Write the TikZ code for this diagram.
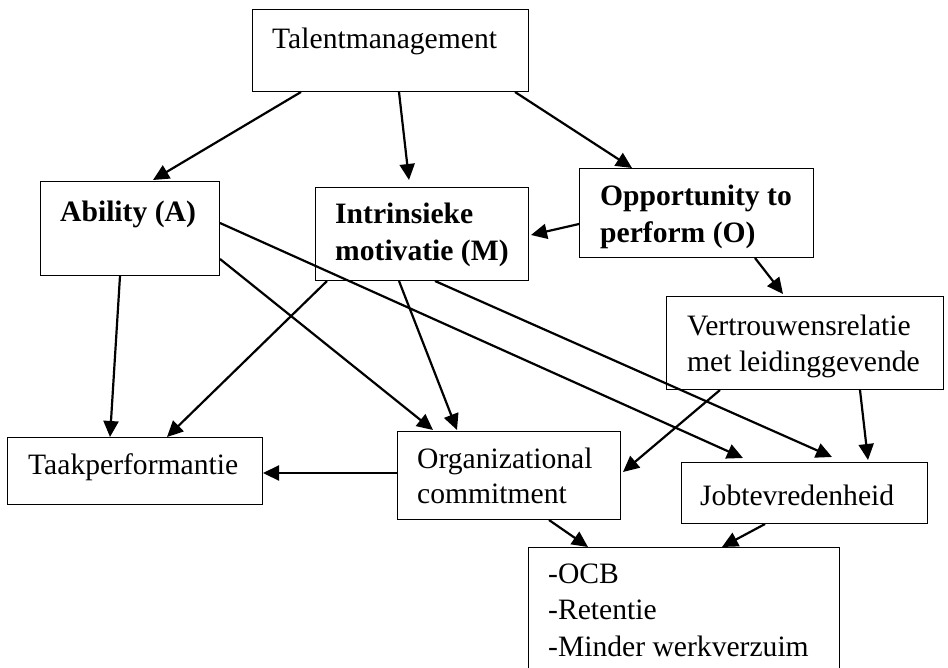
\documentclass[tikz,border=0pt]{standalone}
\usepackage{fontspec}
\setmainfont{Liberation Serif}
\usetikzlibrary{arrows.meta}
\begin{document}
\begin{tikzpicture}[x=1pt,y=-1pt,
  box/.style={draw=black,line width=1pt,inner sep=0pt,anchor=north west,fill=white},
  lbl/.style={anchor=base west,inner sep=0pt,font=\fontsize{29.6}{36}\selectfont},
  blbl/.style={lbl,font=\fontsize{29.6}{36}\selectfont\bfseries},
  arr/.style={line width=2.2pt,-{Triangle[length=16pt,width=15pt]}}]
\useasboundingbox (0,0) rectangle (948,667);
% boxes
\node[box,minimum width=276pt,minimum height=82pt] (tal) at (252,9) {};
\node[box,minimum width=179pt,minimum height=94pt] (abi) at (40,181) {};
\node[box,minimum width=213pt,minimum height=93pt] (mot) at (315,187) {};
\node[box,minimum width=234pt,minimum height=89pt] (opp) at (579,168) {};
\node[box,minimum width=277pt,minimum height=93pt] (ver) at (666,296) {};
\node[box,minimum width=255pt,minimum height=67pt] (taak) at (7,437) {};
\node[box,minimum width=223pt,minimum height=88pt] (org) at (397,431) {};
\node[box,minimum width=246pt,minimum height=61pt] (job) at (681,462) {};
\node[box,minimum width=311pt,minimum height=135pt] (out) at (528,547) {};
% texts
\node[lbl] (talT) at (272,48) {Talentmanagement};
\node[blbl] (abiT) at (60,221) {Ability (A)};
\node[blbl] (motT1) at (335,223) {Intrinsieke};
\node[blbl] (motT2) at (335,260) {motivatie (M)};
\node[blbl] (oppT1) at (600,205) {Opportunity to};
\node[blbl] (oppT2) at (600,242) {perform (O)};
\node[lbl] (verT1) at (687,335) {Vertrouwensrelatie};
\node[lbl] (verT2) at (687,371) {met leidinggevende};
\node[lbl] (taakT) at (28,474) {Taakperformantie};
\node[lbl] (orgT1) at (417,468) {Organizational};
\node[lbl] (orgT2) at (417,503) {commitment};
\node[lbl] (jobT) at (700,505) {Jobtevredenheid};
\node[lbl] (outT1) at (548,583) {-OCB};
\node[lbl] (outT2) at (548,619) {-Retentie};
\node[lbl] (outT3) at (548,656) {-Minder werkverzuim};
% arrows
\draw[arr] ([xshift=49pt]tal.south west) -- ([xshift=113pt,yshift=1pt]abi.north west);
\draw[arr] ([xshift=147pt]tal.south west) -- ([xshift=94pt,yshift=7pt]mot.north west);
\draw[arr] ([xshift=263pt]tal.south west) -- ([xshift=53pt]opp.north west);
\draw[arr] ([yshift=-56pt]opp.north west) -- ([xshift=2pt,yshift=-48pt]mot.north east);
\draw[arr] ([xshift=176pt]opp.south west) -- ([xshift=117pt,yshift=2pt]ver.north west);
\draw[arr] ([yshift=-42pt]abi.north east) -- ([xshift=62pt,yshift=4pt]job.north west);
\draw[arr] ([xshift=80pt]abi.south west) -- ([xshift=103pt]taak.north west);
\draw[arr] ([yshift=-78pt]abi.north east) -- ([xshift=36pt,yshift=1pt]org.north west);
\draw[arr] ([xshift=12pt]mot.south west) -- ([xshift=160pt]taak.north west);
\draw[arr] ([xshift=84pt]mot.south west) -- ([xshift=60pt,yshift=1pt]org.north west);
\draw[arr] ([xshift=120pt]mot.south west) -- ([xshift=151pt,yshift=5pt]job.north west);
\draw[arr] ([xshift=54pt]ver.south west) -- ([xshift=2pt,yshift=-41pt]org.north east);
\draw[arr] ([xshift=194pt]ver.south west) -- ([xshift=187pt,yshift=2pt]job.north west);
\draw[arr] ([yshift=-42pt]org.north west) -- ([yshift=-36pt]taak.north east);
\draw[arr] ([xshift=152pt]org.south west) -- ([xshift=60pt]out.north west);
\draw[arr] ([xshift=84pt]job.south west) -- ([xshift=194pt]out.north west);
\end{tikzpicture}
\end{document}
